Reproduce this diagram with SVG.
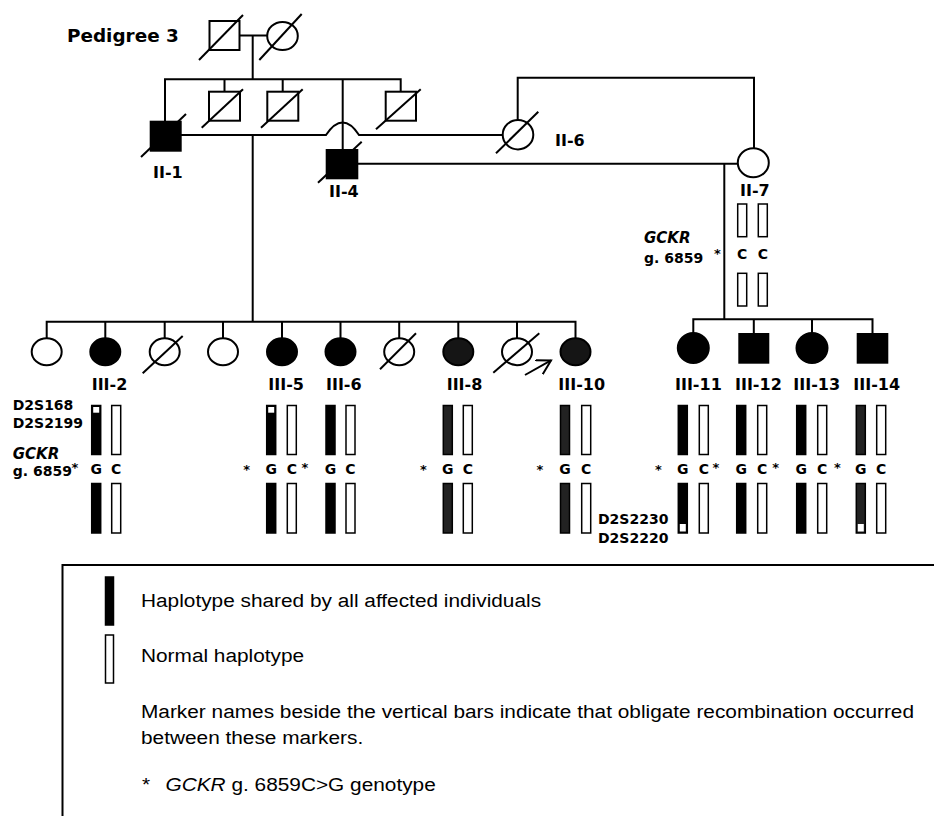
<svg xmlns="http://www.w3.org/2000/svg" width="934" height="816" viewBox="0 0 934 816">
<defs>
<style>
.ln{fill:none;stroke:#000;stroke-width:2}
.o{fill:#fff;stroke:#000;stroke-width:2}
.f{fill:#000;stroke:#000;stroke-width:2}
.s{fill:#151515;stroke:#000;stroke-width:2}
.d{stroke:#000;stroke-width:2}
.bo{fill:#fff;stroke:#000;stroke-width:1.5}
.bf{fill:#000;stroke:#000;stroke-width:1.5}
.bs{fill:#222;stroke:#000;stroke-width:1.5}
.w{fill:#fff}
.lbl{font-family:"DejaVu Sans",sans-serif;font-weight:bold;font-size:16px;fill:#000}
.ttl{font-size:18.4px}
.mk{font-family:"DejaVu Sans",sans-serif;font-weight:bold;font-size:14px;fill:#000}
.gc{text-anchor:middle}
.it{font-style:italic;font-size:15px}
.st{font-family:"DejaVu Sans",sans-serif;font-weight:bold;font-size:13px;fill:#000;text-anchor:middle}
.lg{font-family:"Liberation Sans",Arial,sans-serif;font-size:18.6px;fill:#000}
</style>
<marker id="arr" markerWidth="16" markerHeight="18" refX="14" refY="8" orient="auto" markerUnits="userSpaceOnUse"><path d="M0,0 L14,8 L0,16" fill="none" stroke="#000" stroke-width="2"/></marker>
</defs>
<rect width="934" height="816" fill="#fff"/>

<text class="lbl ttl" x="67" y="42">Pedigree 3</text>

<g id="connectors">
<path class="ln" d="M239.5,35.5 H267"/>
<path class="ln" d="M252.7,35.5 V79.3"/>
<path class="ln" d="M165,121.7 V79.3 H400.7 V91.7"/>
<path class="ln" d="M224.5,79.3 V91.7 M282.7,79.3 V91.7"/>
<path class="ln" d="M342.7,79.3 V150"/>
<path class="ln" d="M180.7,135 H326 Q342.7,110 359,135 H502.7"/>
<path class="ln" d="M252.7,135 V321.7"/>
<path class="ln" d="M517.7,120 V77.7 H754 V148.3"/>
<path class="ln" d="M357.3,163.8 H737.8"/>
<path class="ln" d="M724.3,163.8 V319.3"/>
<path class="ln" d="M46.7,338.2 V321.7 H575.5 V338.2"/>
<path class="ln" d="M105.3,321.7 V338.2 M164.7,321.7 V338.2 M223,321.7 V338.2 M282,321.7 V338.2 M340.5,321.7 V338.2 M399.2,321.7 V338.2 M458.3,321.7 V338.2 M517,321.7 V338.2"/>
<path class="ln" d="M693.3,333 V319.3 H872.5 V334"/>
<path class="ln" d="M753.8,319.3 V334 M812,319.3 V333"/>
</g>

<g id="I-1"><rect class="o" x="209.5" y="21" width="30" height="29"/><line class="d" x1="199" y1="60" x2="243" y2="15"/></g>
<g id="I-2"><ellipse class="o" cx="282.5" cy="36" rx="15.3" ry="14"/><line class="d" x1="259.3" y1="60" x2="301.7" y2="14"/></g>

<g id="II-1"><rect class="f" x="150.7" y="121.7" width="30" height="29"/><line class="d" x1="141" y1="157" x2="186" y2="114"/><text class="lbl" x="153" y="178">II-1</text></g>
<g id="II-2"><rect class="o" x="209" y="91.7" width="31" height="29"/><line class="d" x1="201.7" y1="127.7" x2="243" y2="89.3"/></g>
<g id="II-3"><rect class="o" x="267.3" y="91.7" width="31" height="29"/><line class="d" x1="261" y1="127.7" x2="302.7" y2="89.3"/></g>
<g id="II-4"><rect class="f" x="326.7" y="150" width="30.6" height="28.3"/><line class="d" x1="318" y1="182.7" x2="361.7" y2="141.7"/><text class="lbl" x="329" y="197">II-4</text></g>
<g id="II-5"><rect class="o" x="385.7" y="91.7" width="30.3" height="29"/><line class="d" x1="376" y1="129.3" x2="420.7" y2="89.3"/></g>
<g id="II-6"><ellipse class="o" cx="518" cy="134.7" rx="15.3" ry="14.7"/><line class="d" x1="496" y1="153.3" x2="538.3" y2="111.7"/><text class="lbl" x="555" y="146">II-6</text></g>
<g id="II-7"><ellipse class="o" cx="753.3" cy="162.8" rx="15.5" ry="14.5"/><text class="lbl" x="740" y="196">II-7</text>
<rect class="bo" x="737.7" y="204" width="9" height="32.7"/><rect class="bo" x="758.3" y="204" width="9" height="32.7"/>
<rect class="bo" x="737.7" y="273.3" width="9" height="32.7"/><rect class="bo" x="758.3" y="273.3" width="9" height="32.7"/>
<text class="mk gc" x="742.2" y="259">C</text><text class="mk gc" x="762.8" y="259">C</text>
<text class="mk it" x="644" y="243.3">GCKR</text><text class="mk" x="644" y="262.7">g. 6859</text><text class="st" x="717.3" y="258">*</text></g>

<g id="III-1"><ellipse class="o" cx="46.7" cy="351.7" rx="15" ry="13.5"/></g>
<g id="III-2"><ellipse class="f" cx="105.3" cy="351.7" rx="15" ry="13.5"/><text class="lbl" x="91.7" y="390">III-2</text>
<text class="mk" x="12.7" y="410">D2S168</text><text class="mk" x="12.7" y="428.3">D2S2199</text>
<text class="mk it" x="12.7" y="459.3">GCKR</text><text class="mk" x="12.7" y="476">g. 6859</text><text class="st" x="75" y="472">*</text>
<rect class="bf" x="91.7" y="405.5" width="9" height="49"/><rect class="w" x="93.2" y="407" width="6" height="5.7"/><rect class="bo" x="111.7" y="405.5" width="9" height="49"/>
<text class="mk gc" x="96.2" y="474">G</text><text class="mk gc" x="116.2" y="474">C</text>
<rect class="bf" x="91.7" y="483.5" width="9" height="49.5"/><rect class="bo" x="111.7" y="483.5" width="9" height="49.5"/></g>
<g id="III-3"><ellipse class="o" cx="164.7" cy="351.7" rx="15" ry="13.5"/><line class="d" x1="142.7" y1="373.3" x2="182.7" y2="336"/></g>
<g id="III-4"><ellipse class="o" cx="223" cy="351.7" rx="15" ry="13.5"/></g>
<g id="III-5"><ellipse class="f" cx="282" cy="351.7" rx="15" ry="13.5"/><text class="lbl" x="268.3" y="390">III-5</text>
<rect class="bf" x="266.7" y="405.5" width="9" height="49"/><rect class="w" x="268.2" y="407" width="6" height="5.7"/><rect class="bo" x="287.3" y="405.5" width="9" height="49"/>
<text class="st" x="246.7" y="474">*</text><text class="mk gc" x="271.2" y="474">G</text><text class="mk gc" x="291.8" y="474">C</text><text class="st" x="305" y="472">*</text>
<rect class="bf" x="266.7" y="483.5" width="9" height="49.5"/><rect class="bo" x="287.3" y="483.5" width="9" height="49.5"/></g>
<g id="III-6"><ellipse class="f" cx="340.5" cy="351.7" rx="15" ry="13.5"/><text class="lbl" x="326" y="390">III-6</text>
<rect class="bf" x="326" y="405.5" width="9" height="49"/><rect class="bo" x="346" y="405.5" width="9" height="49"/>
<text class="mk gc" x="330.5" y="474">G</text><text class="mk gc" x="350.5" y="474">C</text>
<rect class="bf" x="326" y="483.5" width="9" height="49.5"/><rect class="bo" x="346" y="483.5" width="9" height="49.5"/></g>
<g id="III-7"><ellipse class="o" cx="399.2" cy="351.7" rx="15" ry="13.5"/><line class="d" x1="380" y1="369.3" x2="416" y2="333.3"/></g>
<g id="III-8"><ellipse class="s" cx="458.3" cy="351.7" rx="15" ry="13.5"/><text class="lbl" x="446.7" y="390">III-8</text>
<rect class="bs" x="443.3" y="405.5" width="9" height="49"/><rect class="bo" x="463.3" y="405.5" width="9" height="49"/>
<text class="st" x="423.3" y="474">*</text><text class="mk gc" x="447.8" y="474">G</text><text class="mk gc" x="467.8" y="474">C</text>
<rect class="bs" x="443.3" y="483.5" width="9" height="49.5"/><rect class="bo" x="463.3" y="483.5" width="9" height="49.5"/></g>
<g id="III-9"><ellipse class="o" cx="517" cy="351.7" rx="15" ry="13.5"/><line class="d" x1="493.3" y1="372.7" x2="539.3" y2="333.3"/></g>
<g id="III-10"><ellipse class="s" cx="575.5" cy="351.7" rx="15" ry="13.5"/><line class="d" x1="525" y1="375" x2="551" y2="360.4" marker-end="url(#arr)"/><text class="lbl" x="558.3" y="390">III-10</text>
<rect class="bs" x="560.5" y="405.5" width="9" height="49"/><rect class="bo" x="581.7" y="405.5" width="9" height="49"/>
<text class="st" x="540" y="474">*</text><text class="mk gc" x="565" y="474">G</text><text class="mk gc" x="586.2" y="474">C</text>
<rect class="bs" x="560.5" y="483.5" width="9" height="49.5"/><rect class="bo" x="581.7" y="483.5" width="9" height="49.5"/>
<text class="mk" x="598" y="524.3">D2S2230</text><text class="mk" x="598" y="543.3">D2S2220</text></g>

<g id="III-11"><ellipse class="f" cx="693.3" cy="348" rx="15.5" ry="15"/><text class="lbl" x="675" y="390">III-11</text>
<rect class="bf" x="678.3" y="405.5" width="9" height="49"/><rect class="bo" x="699.3" y="405.5" width="9" height="49"/>
<text class="st" x="658.3" y="474">*</text><text class="mk gc" x="682.8" y="474">G</text><text class="mk gc" x="703.8" y="474">C</text><text class="st" x="716" y="472">*</text>
<rect class="bf" x="678.3" y="483.5" width="9" height="49.5"/><rect class="w" x="679.8" y="524" width="6" height="7.5"/><rect class="bo" x="699.3" y="483.5" width="9" height="49.5"/></g>
<g id="III-12"><rect class="f" x="739.3" y="334" width="29" height="28.7"/><text class="lbl" x="735" y="390">III-12</text>
<rect class="bf" x="736.7" y="405.5" width="9" height="49"/><rect class="bo" x="757.7" y="405.5" width="9" height="49"/>
<text class="mk gc" x="741.2" y="474">G</text><text class="mk gc" x="762.2" y="474">C</text><text class="st" x="775.7" y="472">*</text>
<rect class="bf" x="736.7" y="483.5" width="9" height="49.5"/><rect class="bo" x="757.7" y="483.5" width="9" height="49.5"/></g>
<g id="III-13"><ellipse class="f" cx="812" cy="348" rx="15.5" ry="15"/><text class="lbl" x="793.3" y="390">III-13</text>
<rect class="bf" x="796.7" y="405.5" width="9" height="49"/><rect class="bo" x="817.7" y="405.5" width="9" height="49"/>
<text class="mk gc" x="801.2" y="474">G</text><text class="mk gc" x="822.2" y="474">C</text><text class="st" x="837.3" y="472">*</text>
<rect class="bf" x="796.7" y="483.5" width="9" height="49.5"/><rect class="bo" x="817.7" y="483.5" width="9" height="49.5"/></g>
<g id="III-14"><rect class="f" x="857.7" y="334" width="29.6" height="28.7"/><text class="lbl" x="853.3" y="390">III-14</text>
<rect class="bs" x="856.3" y="405.5" width="9" height="49"/><rect class="bo" x="876.7" y="405.5" width="9" height="49"/>
<text class="mk gc" x="860.8" y="474">G</text><text class="mk gc" x="881.2" y="474">C</text>
<rect class="bs" x="856.3" y="483.5" width="9" height="49.5"/><rect class="w" x="857.8" y="524" width="6" height="7.5"/><rect class="bo" x="876.7" y="483.5" width="9" height="49.5"/></g>

<g id="legend">
<rect x="62.5" y="565" width="900" height="300" fill="none" stroke="#000" stroke-width="2"/>
<rect class="bf" x="105.5" y="577" width="8" height="48"/>
<rect class="bo" x="105.5" y="635" width="8" height="48"/>
<text class="lg" transform="translate(141,607) scale(1.12,1)">Haplotype shared by all affected individuals</text>
<text class="lg" transform="translate(141,662) scale(1.12,1)">Normal haplotype</text>
<text class="lg" transform="translate(141,718) scale(1.12,1)">Marker names beside the vertical bars indicate that obligate recombination occurred</text>
<text class="lg" transform="translate(141,744) scale(1.12,1)">between these markers.</text>
<text class="lg" transform="translate(142,791) scale(1.12,1)">*<tspan x="21" font-style="italic">GCKR</tspan> g. 6859C&gt;G genotype</text>
</g>
</svg>
